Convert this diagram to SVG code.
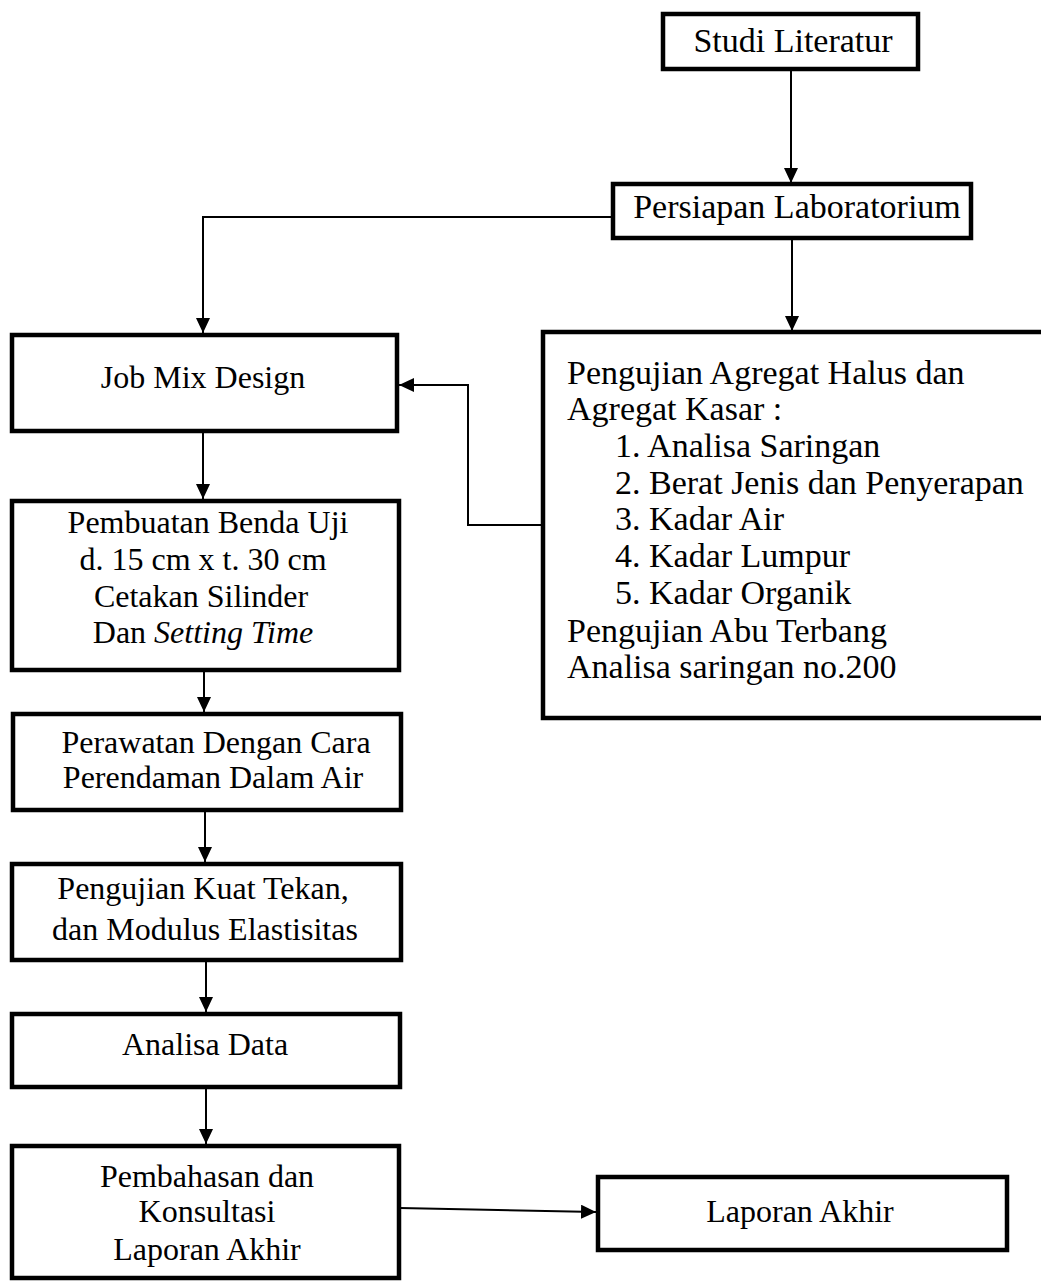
<svg xmlns="http://www.w3.org/2000/svg" width="1041" height="1281" viewBox="0 0 1041 1281">
<style>
.box{fill:#fff;stroke:#000;stroke-width:4.5}
.t{font-family:"Liberation Serif","Times New Roman",serif;font-size:32px;fill:#000}
.l{font-size:34px}
.c{text-anchor:middle}
.con{fill:none;stroke:#000;stroke-width:2}
</style>
<defs>
<marker id="ah" markerUnits="userSpaceOnUse" markerWidth="16" markerHeight="14" refX="15" refY="7" orient="auto">
<path d="M0,0 L15,7 L0,14 z" fill="#000"/>
</marker>
</defs>
<rect width="1041" height="1281" fill="#fff"/>
<g id="connectors">
<line class="con" x1="791" y1="69" x2="791" y2="183" marker-end="url(#ah)"/>
<line class="con" x1="792" y1="238" x2="792" y2="331" marker-end="url(#ah)"/>
<polyline class="con" points="612,217 203,217 203,333" marker-end="url(#ah)"/>
<polyline class="con" points="542,525 468,525 468,385 399,385" marker-end="url(#ah)"/>
<line class="con" x1="203" y1="432" x2="203" y2="499" marker-end="url(#ah)"/>
<line class="con" x1="204" y1="671" x2="204" y2="712" marker-end="url(#ah)"/>
<line class="con" x1="205" y1="811" x2="205" y2="862" marker-end="url(#ah)"/>
<line class="con" x1="206" y1="960" x2="206" y2="1012" marker-end="url(#ah)"/>
<line class="con" x1="206" y1="1088" x2="206" y2="1144" marker-end="url(#ah)"/>
<line class="con" x1="400" y1="1208" x2="596" y2="1212" marker-end="url(#ah)"/>
</g>
<g id="studi">
<rect class="box" x="663" y="14" width="255" height="55"/>
<text class="t l c" x="793" y="52" font-size="33">Studi Literatur</text>
</g>
<g id="persiapan">
<rect class="box" x="613" y="184" width="358" height="54"/>
<text class="t l c" x="797" y="218">Persiapan Laboratorium</text>
</g>
<g id="pengujian-agregat">
<rect class="box" x="543" y="332" width="520" height="386"/>
<text class="t l" x="567" y="384">Pengujian Agregat Halus dan</text>
<text class="t l" x="567" y="420">Agregat Kasar :</text>
<text class="t l" x="615" y="457">1. Analisa Saringan</text>
<text class="t l" x="615" y="494">2. Berat Jenis dan Penyerapan</text>
<text class="t l" x="615" y="530">3. Kadar Air</text>
<text class="t l" x="615" y="567">4. Kadar Lumpur</text>
<text class="t l" x="615" y="604">5. Kadar Organik</text>
<text class="t l" x="567" y="642">Pengujian Abu Terbang</text>
<text class="t l" x="567" y="678">Analisa saringan no.200</text>
</g>
<g id="jobmix">
<rect class="box" x="12" y="335" width="385" height="96"/>
<text class="t c" x="203" y="388">Job Mix Design</text>
</g>
<g id="pembuatan">
<rect class="box" x="12" y="501" width="387" height="169"/>
<text class="t c" x="208" y="533">Pembuatan Benda Uji</text>
<text class="t c" x="203" y="570">d. 15 cm x t. 30 cm</text>
<text class="t c" x="201" y="607">Cetakan Silinder</text>
<text class="t c" x="203" y="643">Dan <tspan font-style="italic">Setting Time</tspan></text>
</g>
<g id="perawatan">
<rect class="box" x="13" y="714" width="388" height="96"/>
<text class="t c" x="216" y="753">Perawatan Dengan Cara</text>
<text class="t c" x="213" y="788">Perendaman Dalam Air</text>
</g>
<g id="kuat-tekan">
<rect class="box" x="12" y="864" width="389" height="96"/>
<text class="t c" x="203" y="899">Pengujian Kuat Tekan,</text>
<text class="t c" x="205" y="940">dan Modulus Elastisitas</text>
</g>
<g id="analisa">
<rect class="box" x="12" y="1014" width="388" height="73"/>
<text class="t c" x="205" y="1055">Analisa Data</text>
</g>
<g id="pembahasan">
<rect class="box" x="12" y="1146" width="387" height="132"/>
<text class="t c" x="207" y="1187">Pembahasan dan</text>
<text class="t c" x="207" y="1222">Konsultasi</text>
<text class="t c" x="207" y="1260">Laporan Akhir</text>
</g>
<g id="laporan">
<rect class="box" x="598" y="1177" width="409" height="73"/>
<text class="t c" x="800" y="1222" font-size="33.5">Laporan Akhir</text>
</g>
</svg>
